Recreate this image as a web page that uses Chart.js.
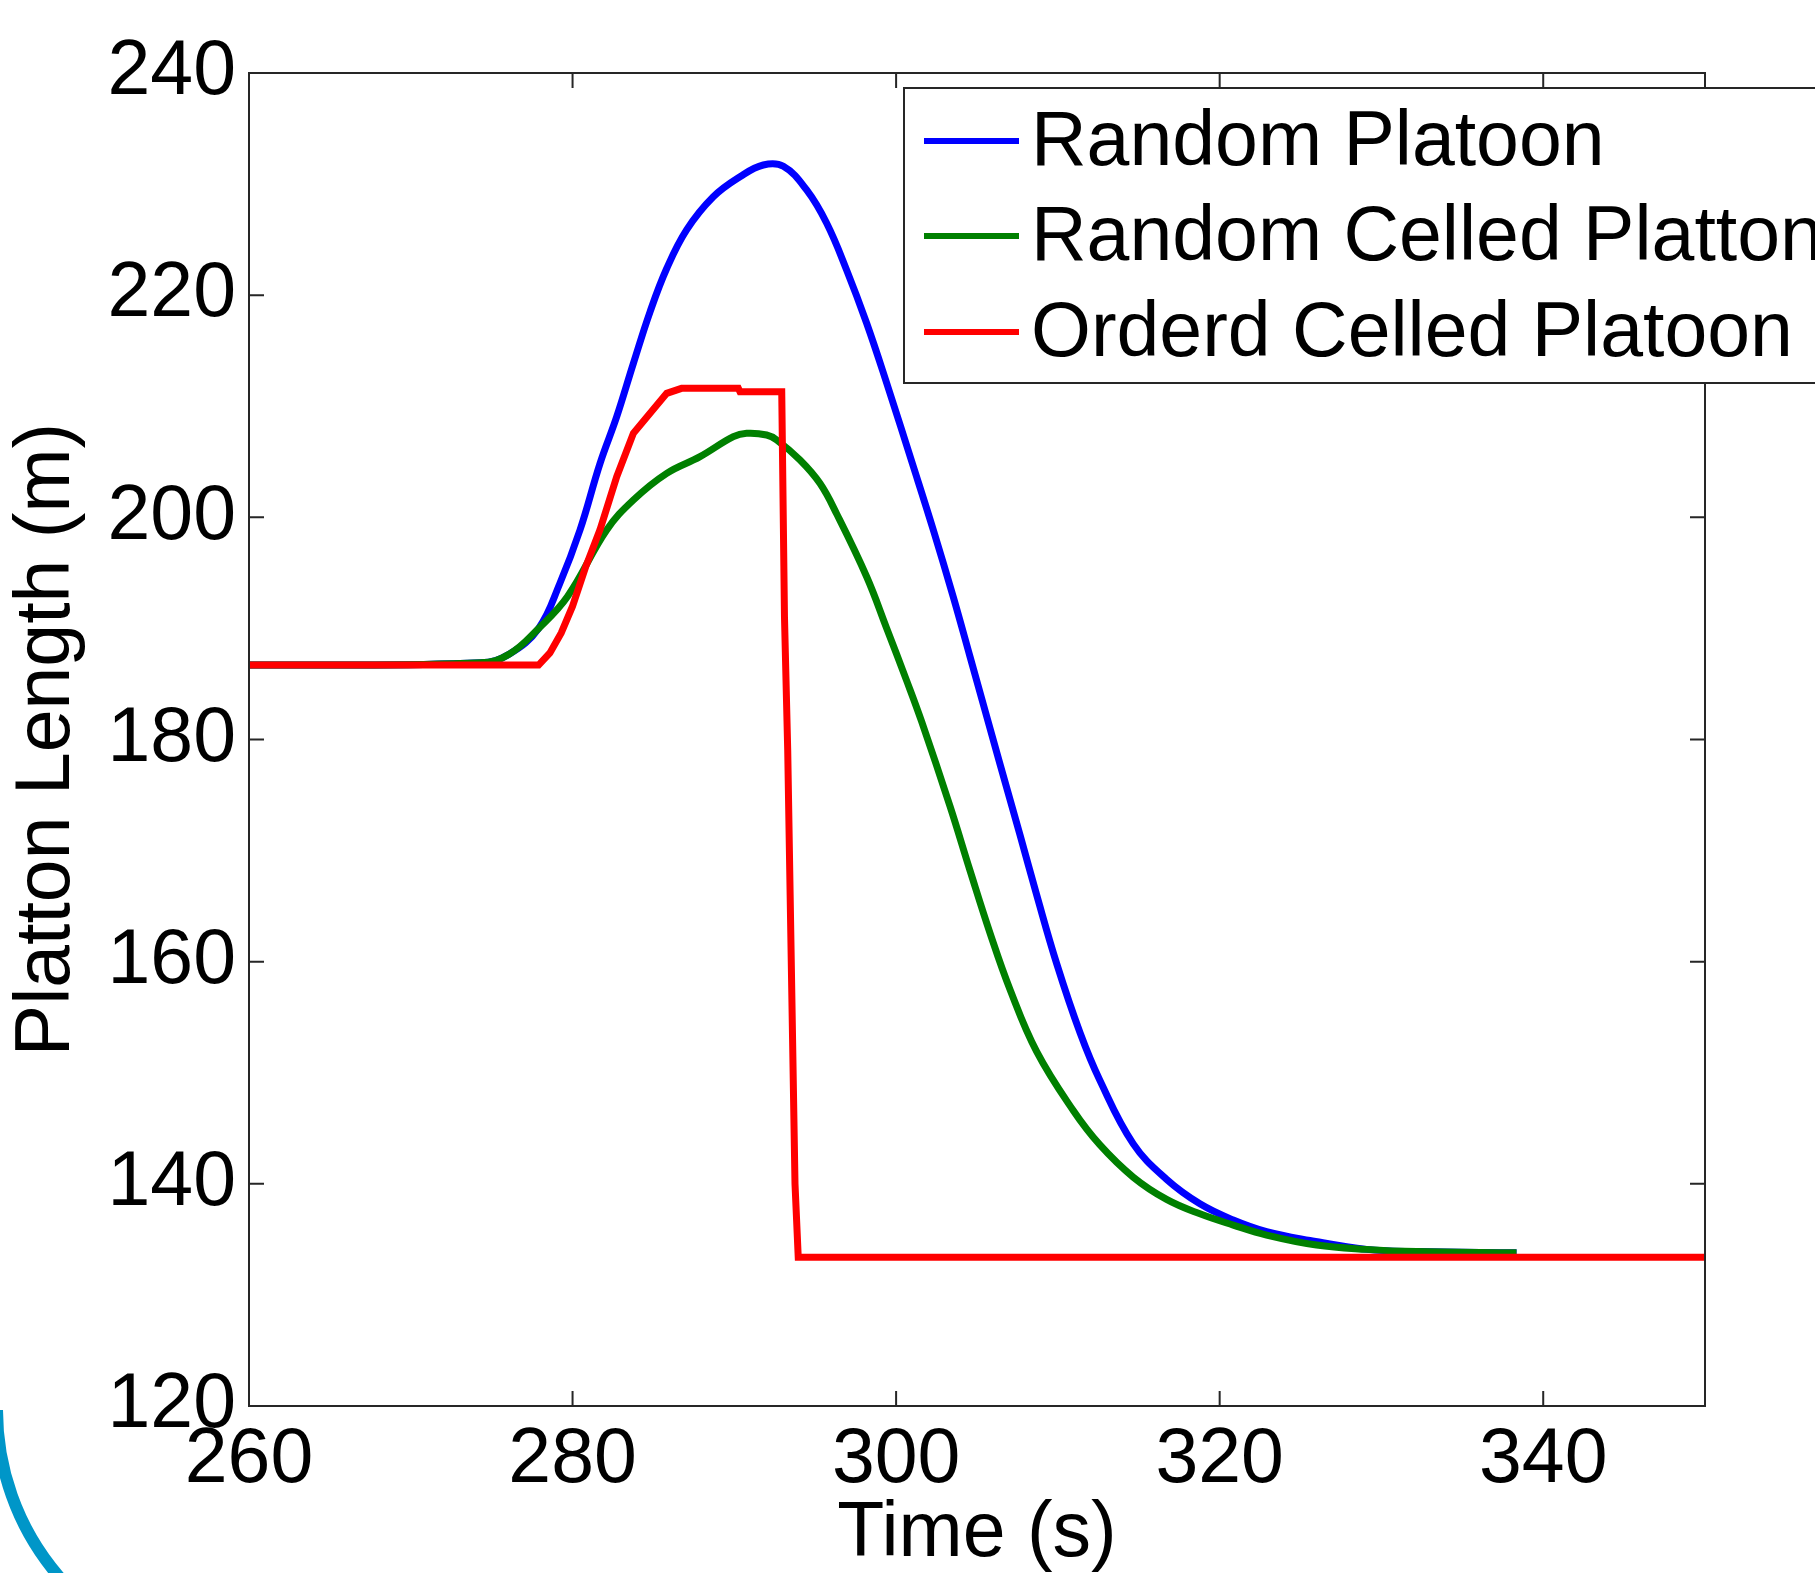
<!DOCTYPE html>
<html>
<head>
<meta charset="utf-8">
<script src="https://cdn.jsdelivr.net/npm/chart.js@4.4.1/dist/chart.umd.min.js"></script>
<style>
  body { margin: 0; background: #fff; }
  #out { display: block; }
</style>
</head>
<body>
<canvas id="out" width="1815" height="1573"></canvas>
<script>
const seriesLabels = ["Random Platoon", "Random Celled Platton", "Orderd Celled Platoon"];
const seriesColors = ["#0000ff", "#008000", "#ff0000"];

const xTicks = [260, 280, 300, 320, 340];
const yTicks = [120, 140, 160, 180, 200, 220, 240];

// Random Platoon
const blueTime = [260, 274.3, 276.1, 277.9, 279.2, 280.46, 281.7, 282.73, 283.76, 284.79, 285.82, 287.06, 288.7, 290.35, 291.79, 293.03, 294.47, 295.71, 296.94, 298.18, 299.42, 301.06, 302.3, 303.53, 304.57, 306.42, 307.66, 308.69, 309.93, 311.37, 312.6, 314.66, 316.72, 318.78, 320.84, 322.9, 325.58, 329.08, 332.17, 338.35];
const blueLen  = [186.7, 186.9, 187.7, 190.0, 194.0, 198.86, 204.86, 209.06, 213.86, 218.5, 222.4, 225.9, 228.86, 230.66, 231.72, 231.6, 229.47, 226.47, 222.27, 217.47, 212.07, 204.6, 198.86, 192.85, 187.45, 177.8, 171.4, 166.0, 159.8, 153.6, 149.3, 143.6, 140.4, 138.2, 136.74, 135.69, 134.9, 134.1, 133.9, 133.8];

// Random Celled Platton
const greenTime = [260, 274.3, 276.1, 277.9, 279.7, 282.11, 283.76, 285.82, 287.88, 289.94, 290.76, 292.0, 292.62, 294.06, 295.29, 296.33, 298.18, 299.42, 300.65, 301.58, 303.33, 304.57, 305.8, 307.04, 308.69, 310.95, 312.6, 314.66, 316.72, 318.78, 320.84, 322.9, 325.99, 329.08, 332.17, 338.35];
const greenLen  = [186.7, 186.9, 187.7, 190.0, 192.9, 198.86, 201.56, 203.96, 205.46, 207.26, 207.56, 207.41, 206.96, 205.16, 203.06, 200.3, 194.65, 190.0, 185.3, 181.6, 174.0, 168.2, 162.6, 157.5, 151.9, 146.6, 143.5, 140.6, 138.6, 137.3, 136.29, 135.39, 134.49, 134.1, 133.9, 133.8];

// Orderd Celled Platoon
const redTime = [260, 277.9, 278.6, 279.3, 280.0, 280.8, 281.7, 282.73, 283.76, 284.79, 285.82, 286.74, 290.25, 290.35, 292.93, 293.1, 293.3, 293.45, 293.6, 293.75, 293.95, 350];
const redLen  = [186.7, 186.7, 187.8, 189.6, 192.0, 195.5, 198.9, 203.66, 207.56, 209.36, 211.16, 211.61, 211.61, 211.31, 211.31, 191, 179, 166, 153, 140, 133.4, 133.4];

function toPoints(xs, ys) {
  return xs.map((x, i) => ({ x: x, y: ys[i] }));
}

const fontFamily = "'Liberation Sans', Arial, sans-serif";

// box round the plot with inward ticks on all sides
const frameBox = {
  id: "frameBox",
  afterDatasetsDraw(chart) {
    const ctx = chart.ctx;
    const a = chart.chartArea;
    const xs = chart.scales.x, ys = chart.scales.y;
    const tl = 15;
    ctx.save();
    ctx.strokeStyle = "#262626";
    ctx.lineWidth = 2;
    ctx.strokeRect(a.left, a.top, a.right - a.left, a.bottom - a.top);
    ctx.beginPath();
    xTicks.concat([350]).forEach(v => {
      const px = xs.getPixelForValue(v);
      ctx.moveTo(px, a.bottom); ctx.lineTo(px, a.bottom - tl);
      ctx.moveTo(px, a.top); ctx.lineTo(px, a.top + tl);
    });
    yTicks.forEach(v => {
      const py = ys.getPixelForValue(v);
      ctx.moveTo(a.left, py); ctx.lineTo(a.left + tl, py);
      ctx.moveTo(a.right, py); ctx.lineTo(a.right - tl, py);
    });
    ctx.stroke();
    ctx.restore();
  }
};

// legend box (it runs past the right edge in the original)
const boxLegend = {
  id: "boxLegend",
  afterDraw(chart) {
    const ctx = chart.ctx;
    const left = 904, top = 88, bottom = 383;
    const rows = [141, 236, 332];
    ctx.save();
    ctx.fillStyle = "#fff";
    ctx.fillRect(left, top, 1000, bottom - top);
    ctx.strokeStyle = "#262626";
    ctx.lineWidth = 2;
    ctx.strokeRect(left, top, 1000, bottom - top);
    ctx.font = "77px " + fontFamily;
    ctx.textBaseline = "middle";
    ctx.fillStyle = "#000";
    chart.data.datasets.forEach((ds, i) => {
      ctx.strokeStyle = ds.borderColor;
      ctx.lineWidth = 6;
      ctx.beginPath();
      ctx.moveTo(924, rows[i]);
      ctx.lineTo(1019, rows[i]);
      ctx.stroke();
      ctx.fillText(ds.label, 1031, rows[i] + 3);
    });
    ctx.restore();

    // blue arc in the lower left corner of the slide
    ctx.save();
    ctx.strokeStyle = "#0096c8";
    ctx.lineWidth = 12;
    ctx.beginPath();
    ctx.arc(252, 1410, 255, Math.PI * 0.55, Math.PI);
    ctx.stroke();
    ctx.restore();
  }
};

const chartConfig = {
  type: "line",
  data: {
    datasets: [
      { label: seriesLabels[0], data: toPoints(blueTime, blueLen), borderColor: seriesColors[0], order: 3, tension: 0.4 },
      { label: seriesLabels[1], data: toPoints(greenTime, greenLen), borderColor: seriesColors[1], order: 2, tension: 0.4 },
      { label: seriesLabels[2], data: toPoints(redTime, redLen), borderColor: seriesColors[2], order: 1, tension: 0 }
    ]
  },
  options: {
    responsive: false,
    animation: false,
    devicePixelRatio: 1,
    layout: { padding: { left: 0, right: 110, top: 73, bottom: 0 } },
    elements: {
      point: { radius: 0 },
      line: { borderWidth: 7, fill: false, borderCapStyle: "butt", borderJoinStyle: "miter" }
    },
    plugins: { legend: { display: false }, tooltip: { enabled: false } },
    scales: {
      x: {
        type: "linear",
        min: 260, max: 350,
        grid: { display: false },
        border: { display: false },
        afterBuildTicks: s => { s.ticks = xTicks.map(v => ({ value: v })); },
        afterFit: s => { s.height = 1573 - 1406; },
        ticks: { color: "#000", font: { family: fontFamily, size: 77 }, padding: 1, maxRotation: 0, autoSkip: false },
        title: { display: true, text: "Time (s)", color: "#000", font: { family: fontFamily, size: 77, lineHeight: 1.0 }, padding: 0 }
      },
      y: {
        min: 120, max: 240,
        grid: { display: false },
        border: { display: false },
        afterBuildTicks: s => { s.ticks = yTicks.map(v => ({ value: v })); },
        afterFit: s => { s.width = 249; },
        ticks: { color: "#000", font: { family: fontFamily, size: 77 }, padding: 5, autoSkip: false },
        title: { display: true, text: "Platton Length (m)", color: "#000", font: { family: fontFamily, size: 77, lineHeight: 1.0 }, padding: { top: 9, bottom: 0 } }
      }
    }
  },
  plugins: [frameBox, boxLegend]
};

window.chart = new Chart(document.getElementById("out").getContext("2d"), chartConfig);
</script>
</body>
</html>
